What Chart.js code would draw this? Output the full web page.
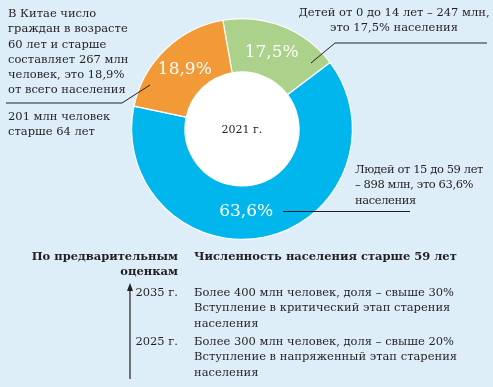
<!DOCTYPE html>
<html>
<head>
<meta charset="utf-8">
<script src="https://cdn.jsdelivr.net/npm/chart.js@4/dist/chart.umd.min.js"></script>
<style>
  body { margin: 0; background: #ddeef9; }
  #wrap { position: relative; width: 493px; height: 387px; background: #ddeef9;
          font-family: "DejaVu Serif", serif; font-size: 11.5px; color: #231f20; overflow: hidden; }
  #wrap canvas { position: absolute; left: 0; top: 0; }
  .t { position: absolute; line-height: 15.3px; white-space: nowrap; }
  .b { font-weight: bold; }
  svg { position: absolute; left: 0; top: 0; }
</style>
</head>
<body>
<div id="wrap">
  <canvas id="chart" width="493" height="387"></canvas>
  <svg width="493" height="387">
    <polyline points="311,63 335,43 487,43" fill="none" stroke="#231f20" stroke-width="1"/>
    <polyline points="150,85 122,103 6,103" fill="none" stroke="#231f20" stroke-width="1"/>
    <line x1="283" y1="211.5" x2="410" y2="211.5" stroke="#231f20" stroke-width="1"/>
    <line x1="130" y1="379" x2="130" y2="290" stroke="#231f20" stroke-width="1.2"/>
    <polygon points="130,283 127,291 133,291" fill="#231f20"/>
  </svg>
  <div class="t" style="left:8px; top:6px;">В Китае число<br>граждан в возрасте<br>60 лет и старше<br>составляет 267 млн<br>человек, это 18,9%<br>от всего населения</div>
  <div class="t" style="left:8px; top:109px;">201 млн человек<br>старше 64 лет</div>
  <div class="t" style="left:295px; top:5px; width:198px; text-align:center;">Детей от 0 до 14 лет – 247 млн,<br>это 17,5% населения</div>
  <div class="t" style="left:355px; top:162px; letter-spacing:-0.4px;">Людей от 15 до 59 лет<br>– 898 млн, это 63,6%<br>населения</div>
  <div class="t" style="left:212px; top:122px; width:60px; text-align:center; font-size:11px;">2021 г.</div>

  <div class="t b" style="right:315px; top:249px; text-align:right;">По предварительным<br>оценкам</div>
  <div class="t b" style="left:194px; top:249px;">Численность населения старше 59 лет</div>
  <div class="t" style="right:315px; top:285px; text-align:right;">2035 г.</div>
  <div class="t" style="left:194px; top:285px;">Более 400 млн человек, доля – свыше 30%<br>Вступление в критический этап старения<br>населения</div>
  <div class="t" style="right:315px; top:334px; text-align:right;">2025 г.</div>
  <div class="t" style="left:194px; top:334px;">Более 300 млн человек, доля – свыше 20%<br>Вступление в напряженный этап старения<br>населения</div>
</div>
<script>
const ageGroups = ['0–14 лет', '15–59 лет', '60 лет и старше'];
const shares = [17.5, 63.6, 18.9];
const sliceColors = ['#abd18a', '#00b6ec', '#f39a38'];

// small horizontal nudges for the in-ring labels
const labelShiftX = [-1, -14, 1];

// white hole + percent labels inside the ring
const ringExtras = {
  id: 'ringExtras',
  beforeDatasetsDraw(chart) {
    const arc = chart.getDatasetMeta(0).data[0];
    const ctx = chart.ctx;
    ctx.save();
    ctx.fillStyle = '#ffffff';
    ctx.beginPath();
    ctx.arc(arc.x, arc.y, arc.innerRadius, 0, Math.PI * 2);
    ctx.fill();
    ctx.restore();
  },
  afterDatasetsDraw(chart) {
    const ctx = chart.ctx;
    ctx.save();
    ctx.fillStyle = '#ffffff';
    ctx.font = '17px "DejaVu Serif"';
    ctx.textAlign = 'center';
    ctx.textBaseline = 'middle';
    chart.getDatasetMeta(0).data.forEach((el, i) => {
      const p = el.getCenterPoint();
      ctx.fillText(String(shares[i]).replace('.', ',') + '%', p.x + labelShiftX[i], p.y + 1);
    });
    ctx.restore();
  }
};

new Chart(document.getElementById('chart'), {
  type: 'doughnut',
  data: {
    labels: ageGroups,
    datasets: [{
      data: shares,
      backgroundColor: sliceColors,
      borderColor: '#ffffff',
      borderWidth: 1.2
    }]
  },
  options: {
    responsive: false,
    animation: false,
    rotation: -10,
    cutout: 57,
    layout: { padding: { left: 131, right: 140, top: 18, bottom: 147 } },
    plugins: { legend: { display: false }, tooltip: { enabled: false } }
  },
  plugins: [ringExtras]
});
</script>
</body>
</html>
